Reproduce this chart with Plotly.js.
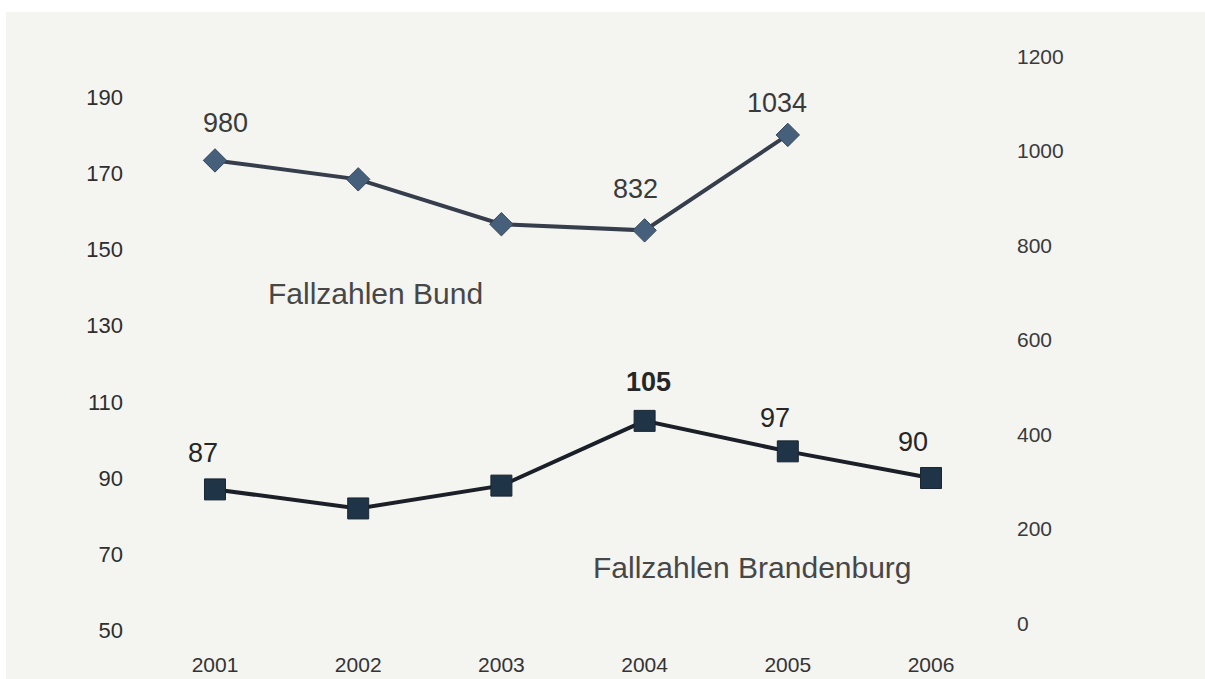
<!DOCTYPE html>
<html>
<head>
<meta charset="utf-8">
<script src="https://cdn.plot.ly/plotly-3.0.1.min.js"></script>
<style>
  html, body { margin: 0; padding: 0; background: #ffffff; width: 1205px; height: 679px; overflow: hidden; }
  #chart { position: absolute; left: 6px; top: 12px; width: 1199px; height: 667px; }
</style>
</head>
<body>
<div id="chart"></div>
<script>
// ---- data ----
const years = [2001, 2002, 2003, 2004, 2005, 2006];
const bundYears = [2001, 2002, 2003, 2004, 2005];
const bundValues = [980, 940, 845, 832, 1034];
const brandenburgValues = [87, 82, 88, 105, 97, 90];
const leftTicks = [50, 70, 90, 110, 130, 150, 170, 190];
const rightTicks = [0, 200, 400, 600, 800, 1000, 1200];
const bundLabelIdx = [0, 3, 4];
const brbLabelIdx = [0, 3, 4, 5];
const seriesNames = ['Fallzahlen Bund', 'Fallzahlen Brandenburg'];

// ---- label offsets (style) ----
const bundShift = [[11, 37], [-9, 41], [-11, 32]];
const brbShift = [[-12, 36], [4, 39], [-13, 33], [-18, 36]];

const FONT = 'Liberation Sans, Arial, sans-serif';

const traces = [
  {
    x: bundYears, y: bundValues, yaxis: 'y2', type: 'scatter', mode: 'lines+markers',
    line: { color: '#363d4b', width: 4 },
    marker: { symbol: 'diamond', size: 18, color: '#46607c', line: { color: '#39475a', width: 1 } },
    hoverinfo: 'skip'
  },
  {
    x: years, y: brandenburgValues, yaxis: 'y', type: 'scatter', mode: 'lines+markers',
    line: { color: '#1b1f27', width: 4 },
    marker: { symbol: 'square', size: 21, color: '#1f3446', line: { color: '#1a2632', width: 1 } },
    hoverinfo: 'skip'
  }
];

const annotations = [];
bundLabelIdx.forEach((i, k) => {
  annotations.push({
    x: bundYears[i], y: bundValues[i], xref: 'x', yref: 'y2',
    text: String(bundValues[i]), showarrow: false,
    xshift: bundShift[k][0], yshift: bundShift[k][1],
    font: { family: FONT, size: 27, color: '#3a3a3a' }
  });
});
brbLabelIdx.forEach((i, k) => {
  const v = brandenburgValues[i];
  annotations.push({
    x: years[i], y: v, xref: 'x', yref: 'y',
    text: v === 105 ? '<b>' + v + '</b>' : String(v), showarrow: false,
    xshift: brbShift[k][0], yshift: brbShift[k][1],
    font: { family: FONT, size: 27, color: '#262626' }
  });
});
annotations.push({
  x: 2002.12, xref: 'x', yref: 'paper', y: (650 - 293) / 610, yanchor: 'middle',
  text: seriesNames[0], showarrow: false,
  font: { family: FONT, size: 30, color: '#474747' }
});
annotations.push({
  x: 2004.75, xref: 'x', yref: 'paper', y: (650 - 567) / 610, yanchor: 'middle',
  text: seriesNames[1], showarrow: false,
  font: { family: FONT, size: 30, color: '#474747' }
});

const layout = {
  width: 1199, height: 667,
  margin: { l: 122, r: 192, t: 28, b: 29, pad: 0 },
  paper_bgcolor: '#f4f4f1', plot_bgcolor: '#f4f4f1',
  showlegend: false,
  xaxis: {
    range: [2000.3925, 2006.5726], tickvals: years, ticktext: years.map(String),
    showgrid: false, zeroline: false, showline: false, ticks: '',
    tickfont: { family: FONT, size: 21, color: '#333333' }
  },
  yaxis: {
    range: [44.82, 205.05], tickvals: leftTicks, ticktext: leftTicks.map(String),
    showgrid: false, zeroline: false, showline: false, ticks: '', ticklabelstandoff: 4,
    tickfont: { family: FONT, size: 22, color: '#2e2e2e' }
  },
  yaxis2: {
    overlaying: 'y', side: 'right',
    range: [-56.1, 1234.9], tickvals: rightTicks, ticktext: rightTicks.map(String),
    showgrid: false, zeroline: false, showline: false, ticks: '', ticklabelstandoff: 3,
    tickfont: { family: FONT, size: 21, color: '#3a3a3a' }
  },
  annotations: annotations
};

Plotly.newPlot('chart', traces, layout, { displayModeBar: false, staticPlot: true });
</script>
</body>
</html>
